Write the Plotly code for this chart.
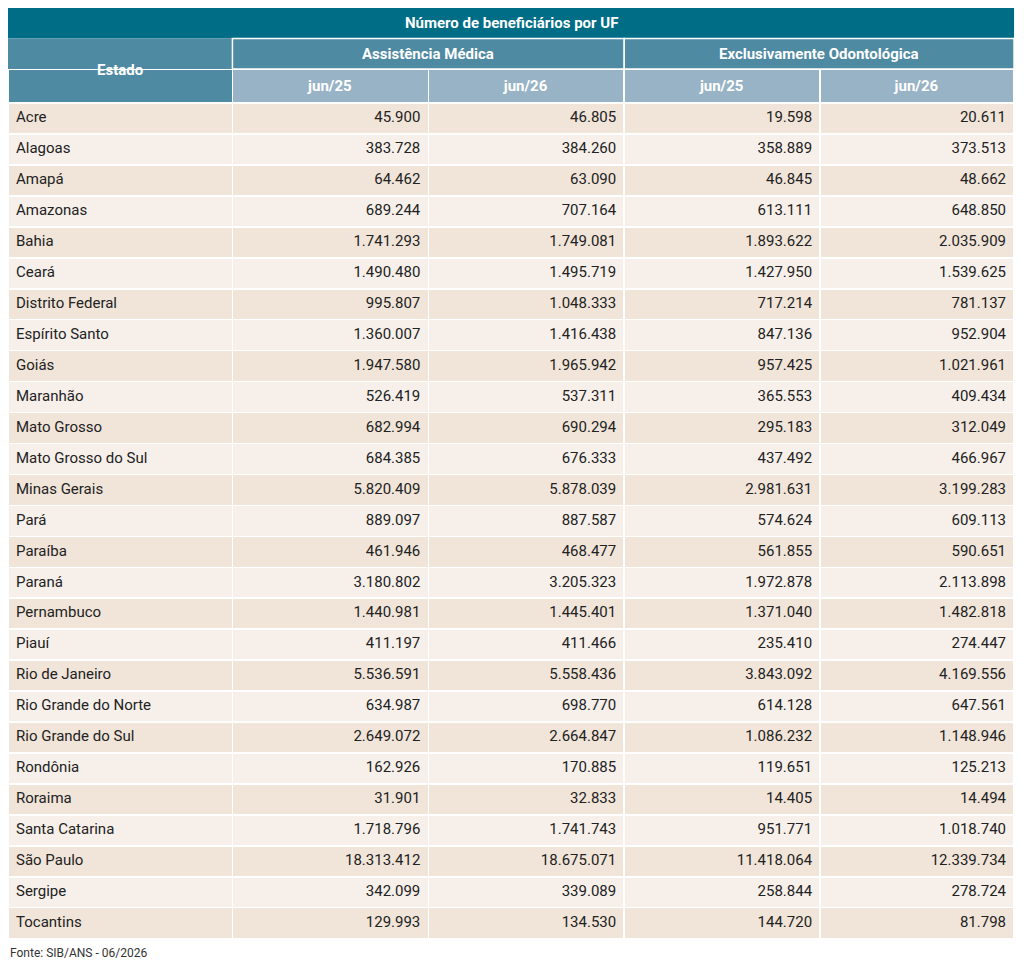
import plotly.graph_objects as go

estados = ["Acre", "Alagoas", "Amapá", "Amazonas", "Bahia", "Ceará", "Distrito Federal",
           "Espírito Santo", "Goiás", "Maranhão", "Mato Grosso", "Mato Grosso do Sul",
           "Minas Gerais", "Pará", "Paraíba", "Paraná", "Pernambuco", "Piauí",
           "Rio de Janeiro", "Rio Grande do Norte", "Rio Grande do Sul", "Rondônia",
           "Roraima", "Santa Catarina", "São Paulo", "Sergipe", "Tocantins"]
med_jun25 = ["45.900", "383.728", "64.462", "689.244", "1.741.293", "1.490.480", "995.807",
             "1.360.007", "1.947.580", "526.419", "682.994", "684.385", "5.820.409", "889.097",
             "461.946", "3.180.802", "1.440.981", "411.197", "5.536.591", "634.987", "2.649.072",
             "162.926", "31.901", "1.718.796", "18.313.412", "342.099", "129.993"]
med_jun26 = ["46.805", "384.260", "63.090", "707.164", "1.749.081", "1.495.719", "1.048.333",
             "1.416.438", "1.965.942", "537.311", "690.294", "676.333", "5.878.039", "887.587",
             "468.477", "3.205.323", "1.445.401", "411.466", "5.558.436", "698.770", "2.664.847",
             "170.885", "32.833", "1.741.743", "18.675.071", "339.089", "134.530"]
odo_jun25 = ["19.598", "358.889", "46.845", "613.111", "1.893.622", "1.427.950", "717.214",
             "847.136", "957.425", "365.553", "295.183", "437.492", "2.981.631", "574.624",
             "561.855", "1.972.878", "1.371.040", "235.410", "3.843.092", "614.128", "1.086.232",
             "119.651", "14.405", "951.771", "11.418.064", "258.844", "144.720"]
odo_jun26 = ["20.611", "373.513", "48.662", "648.850", "2.035.909", "1.539.625", "781.137",
             "952.904", "1.021.961", "409.434", "312.049", "466.967", "3.199.283", "609.113",
             "590.651", "2.113.898", "1.482.818", "274.447", "4.169.556", "647.561", "1.148.946",
             "125.213", "14.494", "1.018.740", "12.339.734", "278.724", "81.798"]
periodos = ["jun/25", "jun/26", "jun/25", "jun/26"]
grupos = ["Assistência Médica", "Exclusivamente Odontológica"]

# page gets an 8px body margin, so the figure is a bit smaller than the window
W, H = 1008, 954
SX, SY = W / 1024, H / 968
FONT = "Liberation Sans Narrow, Roboto, Arial"
TITLE_C, MID_C, LIGHT_C = "#006d87", "#4f8aa3", "#97b3c5"
ODD, EVEN = "#f1e5d9", "#f7f0ea"

def py(p):
    return 1 - p * SY / H

def px(p):
    return p * SX / W

cols_px = [0, 228, 427, 626, 825, 1022]
n = len(estados)
row_fill = [ODD if i % 2 == 0 else EVEN for i in range(n)]

fig = go.Figure(go.Table(
    domain=dict(x=[0, px(cols_px[-1])], y=[py(944), py(62)]),
    columnwidth=[cols_px[i + 1] - cols_px[i] for i in range(5)],
    header=dict(values=[""] + ["<b>" + p + "</b>" for p in periodos], height=32 * SY,
                fill_color=[MID_C] + [LIGHT_C] * 4,
                line=dict(color="white", width=1.5),
                align="center", font=dict(family=FONT, size=15, color="white")),
    cells=dict(values=[estados, med_jun25, med_jun26, odo_jun25, odo_jun26],
               height=31.4 * SY, fill_color=[row_fill] * 5,
               line=dict(color="white", width=1.5),
               align=["left", "right", "right", "right", "right"],
               font=dict(family=FONT, size=15, color="#222")),
))

shapes = [
    dict(type="rect", xref="paper", yref="paper", x0=0, x1=px(cols_px[-1]),
         y0=py(31), y1=1, fillcolor=TITLE_C, line_width=0),
    dict(type="rect", xref="paper", yref="paper", x0=0, x1=px(cols_px[1]),
         y0=py(62), y1=py(31), fillcolor=MID_C, line_width=0),
]
for i, g in enumerate(grupos):
    shapes.append(dict(type="rect", xref="paper", yref="paper",
                       x0=px(cols_px[1 + 2 * i]), x1=px(cols_px[3 + 2 * i]),
                       y0=py(62), y1=py(31), fillcolor=MID_C,
                       line=dict(color="white", width=1.5)))

ann = [
    dict(text="<b>Número de beneficiários por UF</b>", x=px(cols_px[-1] / 2), y=py(15.5)),
    dict(text="<b>Estado</b>", x=px(cols_px[1] / 2), y=py(63)),
]
for i, g in enumerate(grupos):
    ann.append(dict(text="<b>" + g + "</b>",
                    x=px((cols_px[1 + 2 * i] + cols_px[3 + 2 * i]) / 2), y=py(47)))
for a in ann:
    a.update(xref="paper", yref="paper", showarrow=False, xanchor="center", yanchor="middle",
             font=dict(family=FONT, size=15, color="white"))
ann.append(dict(text="Fonte: SIB/ANS - 06/2026", x=0, y=0, xref="paper", yref="paper",
                showarrow=False, xanchor="left", yanchor="bottom",
                font=dict(family=FONT, size=12, color="#333")))

fig.update_layout(width=W, height=H, margin=dict(l=0, r=0, t=0, b=0),
                  paper_bgcolor="white", shapes=shapes, annotations=ann)
fig.write_html("out.html")
